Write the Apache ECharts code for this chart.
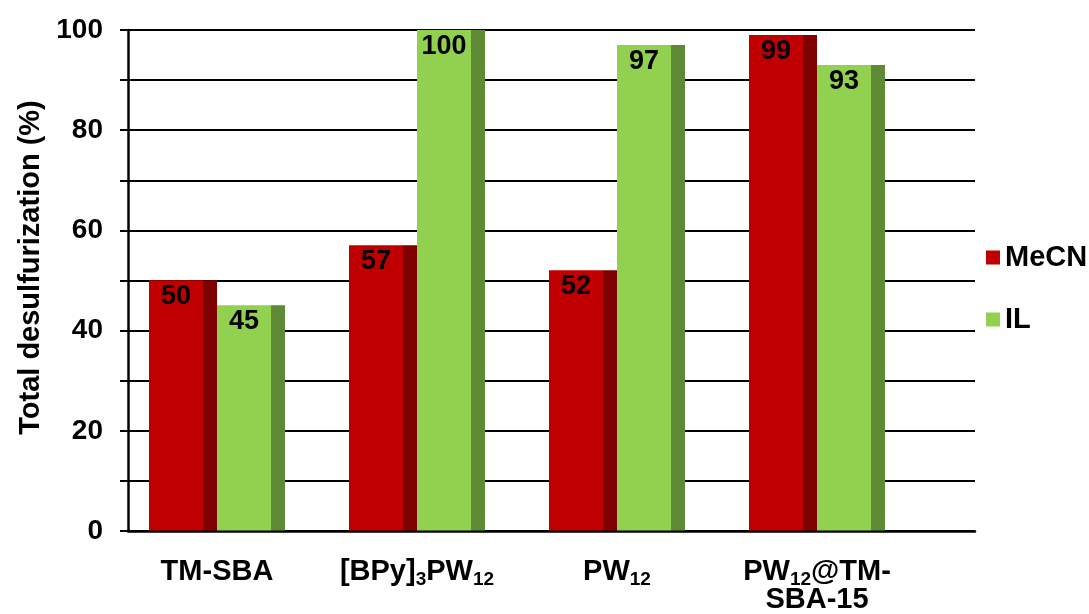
<!DOCTYPE html>
<html>
<head>
<meta charset="utf-8">
<script src="https://cdn.jsdelivr.net/npm/echarts@6/dist/echarts.min.js"></script>
<style>
  html, body { margin: 0; padding: 0; background: #ffffff; }
  #chart { width: 1089px; height: 614px; }
</style>
</head>
<body>
<div id="chart"></div>
<script>
// Catalysts compared (rich-text markup gives the subscripts)
const categories = ['TM-SBA', '[BPy]3PW12', 'PW12', 'PW12@TM-SBA-15'];
const categoryLabels = ['TM-SBA', '[BPy]{s|3}PW{s|12}', 'PW{s|12}', 'PW{s|12}@TM-\nSBA-15'];

// Total desulfurization (%) per extraction solvent
const mecnValues = [50, 57, 52, 99];
const ilValues = [45, 100, 97, 93];

// Value axis ticks
const yTicks = [0, 20, 40, 60, 80, 100];

const FONT = '"Liberation Sans", Arial, sans-serif';

const chart = echarts.init(document.getElementById('chart'), null, { renderer: 'canvas' });

const labelStyle = {
  show: true,
  position: 'insideTop',
  distance: 3,
  color: '#000',
  fontFamily: FONT,
  fontWeight: 'bold',
  fontSize: 27
};

// Each bar is a lit front face plus a narrow shaded side face
function face(name, values, color, width, withLabel) {
  return {
    name: name,
    type: 'bar',
    xAxisIndex: 1,
    yAxisIndex: 1,
    data: values,
    barWidth: width,
    barGap: '0%',
    itemStyle: { color: color },
    label: withLabel ? labelStyle : { show: false },
    emphasis: { disabled: true },
    silent: true
  };
}

chart.setOption({
  animation: false,
  backgroundColor: '#ffffff',
  grid: [
    { left: 128, right: 114, top: 30, bottom: 83 },
    { left: 117, right: 172, top: 30, bottom: 83 }
  ],
  legend: {
    data: ['MeCN', 'IL'],
    orient: 'vertical',
    left: 981,
    top: 238,
    icon: 'rect',
    itemWidth: 14,
    itemHeight: 14,
    itemGap: 33,
    textStyle: {
      fontFamily: FONT, fontWeight: 'bold', fontSize: 29, color: '#000', lineHeight: 28
    },
    selectedMode: false
  },
  xAxis: [
    {
      gridIndex: 0,
      type: 'value',
      min: 0,
      max: 1,
      axisLine: { show: true, lineStyle: { color: '#000', width: 2.5 } },
      axisTick: { show: false },
      axisLabel: { show: false },
      splitLine: { show: false }
    },
    {
      gridIndex: 1,
      type: 'category',
      data: categories,
      axisLine: { show: false },
      axisTick: { show: false },
      axisLabel: {
        margin: 27,
        interval: 0,
        color: '#000',
        fontFamily: FONT,
        fontWeight: 'bold',
        fontSize: 29,
        lineHeight: 28,
        formatter: (v, i) => categoryLabels[i],
        rich: {
          s: {
            fontFamily: FONT, fontWeight: 'bold', fontSize: 19, color: '#000',
            lineHeight: 12, padding: [16, 0, 0, 0]
          }
        }
      }
    }
  ],
  yAxis: [
    {
      gridIndex: 0,
      type: 'value',
      min: 0,
      max: 100,
      interval: 10,
      name: 'Total desulfurization (%)',
      nameLocation: 'middle',
      nameGap: 80,
      nameTextStyle: {
        fontFamily: FONT, fontWeight: 'bold', fontSize: 29, color: '#000',
        padding: [0, 0, 0, 26]
      },
      axisLine: { show: true, lineStyle: { color: '#000', width: 2.5 } },
      axisTick: { show: true, length: 8, lineStyle: { color: '#000', width: 2 } },
      axisLabel: {
        margin: 25,
        color: '#000',
        fontFamily: FONT,
        fontWeight: 'bold',
        fontSize: 28,
        formatter: v => (yTicks.indexOf(v) >= 0 ? String(v) : '')
      },
      splitLine: { show: true, lineStyle: { color: '#000', width: 2 } }
    },
    {
      gridIndex: 1,
      type: 'value',
      min: 0,
      max: 100,
      show: false,
      splitLine: { show: false }
    }
  ],
  series: [
    face('MeCN', mecnValues, '#C00000', 54, true),
    face('MeCN shade', mecnValues, '#7E0000', 14, false),
    face('IL', ilValues, '#92D050', 54, true),
    face('IL shade', ilValues, '#5F8A35', 14, false)
  ]
});
</script>
</body>
</html>
